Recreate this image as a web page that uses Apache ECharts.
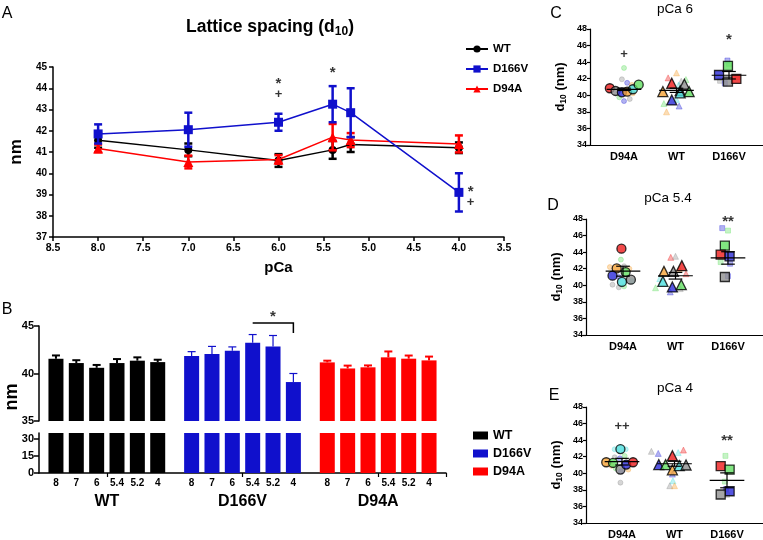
<!DOCTYPE html>
<html><head><meta charset="utf-8">
<script src="https://cdn.jsdelivr.net/npm/echarts@6/dist/echarts.min.js"></script>
<style>html,body{margin:0;padding:0;background:#fff}#c{width:763px;height:540px}</style>
</head><body><div id="c"></div>
<script>
// ---------- Panel A / B data ----------
const pCa = [8.0, 7.0, 6.0, 5.4, 5.2, 4.0];
const pCaLabels = ['8', '7', '6', '5.4', '5.2', '4'];
const groups = ['WT', 'D166V', 'D94A'];
const wtMean = [41.55, 41.1, 40.6, 41.1, 41.35, 41.2];
const wtSem = [0.35, 0.3, 0.3, 0.42, 0.35, 0.25];
const d166vMean = [41.85, 42.05, 42.4, 43.25, 42.85, 39.1];
const d166vSem = [0.45, 0.8, 0.4, 0.85, 1.15, 0.9];
const d94aMean = [41.17, 40.53, 40.65, 41.7, 41.56, 41.38];
const d94aSem = [0.18, 0.3, 0.2, 0.62, 0.33, 0.4];
const annA = [[6.0, 44.4, '*'], [6.0, 43.7, '+'], [5.4, 44.9, '*'], [3.87, 39.3, '*'], [3.87, 38.65, '+']];
const annB = [46.4, '*'];
const bracketB = [45.32, 44.26];

// ---------- Panels C, D, E data: [x jitter, d10, colour key] ----------
const scatterCats = ['D94A', 'WT', 'D166V'];
const p6BigD94A = [[-0.27,40.85,'r'],[-0.16,40.52,'k'],[-0.04,40.36,'b'],[0.06,40.44,'o'],[0.17,40.73,'c'],[0.28,41.28,'g']];
const p6FaintD94A = [[0.0,43.3,'g'],[-0.04,41.93,'k'],[0.06,41.5,'b'],[0.15,41.25,'o'],[0.17,40.24,'o'],[0.11,39.55,'k'],[0.0,39.3,'b'],[-0.09,39.76,'g']];
const p6BigWT = [[-0.26,40.44,'o'],[-0.09,41.45,'r'],[-0.09,39.44,'b'],[0.07,40.56,'k'],[0.07,40.3,'c'],[0.15,41.33,'k'],[0.24,40.44,'g']];
const p6FaintWT = [[-0.16,42.1,'r'],[0.0,42.7,'o'],[0.18,41.9,'g'],[0.09,41.7,'k'],[0.04,41.25,'c'],[-0.19,38.0,'o'],[0.05,38.7,'b'],[0.0,39.5,'c'],[-0.24,39.0,'g']];
const p6BigD166V = [[-0.19,42.45,'b'],[-0.02,43.55,'g'],[-0.02,41.65,'k'],[0.14,41.97,'r']];
const p6FaintD166V = [[-0.03,44.2,'b'],[0.0,43.8,'g'],[-0.17,41.75,'k'],[-0.08,41.45,'b'],[0.16,42.2,'r']];
const p6Mean = [40.72, 40.6, 42.42];
const p6Sem = [0.14, 0.25, 0.45];
const p6Ann = [[1, 44.9, '+'], [3, 47.2, '*']];

const p54BigD94A = [[-0.03,44.42,'r'],[-0.12,42.04,'o'],[-0.2,41.16,'b'],[0.05,41.6,'g'],[-0.02,40.4,'c'],[0.15,40.68,'k']];
const p54FaintD94A = [[-0.04,43.1,'g'],[0.02,42.3,'k'],[0.12,42.0,'o'],[-0.25,42.2,'o'],[-0.08,41.0,'b'],[0.17,40.5,'c'],[-0.2,40.07,'k'],[-0.08,39.75,'k'],[0.02,39.87,'g']];
const p54BigWT = [[-0.22,41.68,'o'],[-0.04,41.68,'k'],[0.12,42.37,'r'],[-0.24,40.47,'c'],[-0.06,39.8,'b'],[0.11,40.07,'g']];
const p54FaintWT = [[-0.09,43.37,'r'],[0.0,43.5,'k'],[0.07,42.0,'o'],[0.2,41.4,'r'],[-0.3,40.8,'c'],[-0.38,39.7,'g'],[-0.1,39.2,'b'],[0.09,39.6,'k']];
const p54BigD166V = [[-0.06,44.78,'g'],[-0.14,43.7,'r'],[0.03,43.5,'b'],[-0.06,41.0,'k']];
const p54FaintD166V = [[-0.11,46.9,'b'],[0.0,46.6,'g'],[-0.14,42.8,'g'],[0.04,42.6,'b'],[0.0,41.1,'b']];
const p54Mean = [41.7, 41.15, 43.3];
const p54Sem = [0.6, 0.4, 0.75];
const p54Ann = [[3, 48.1, '**']];

const p4BigD94A = [[-0.3,41.33,'o'],[-0.17,41.25,'g'],[-0.03,42.92,'c'],[-0.03,40.45,'k'],[0.08,41.05,'b'],[0.21,41.33,'r']];
const p4FaintD94A = [[-0.14,42.9,'c'],[0.07,42.9,'c'],[0.05,42.1,'g'],[-0.14,41.93,'k'],[-0.04,41.8,'b'],[-0.2,40.9,'o'],[0.12,40.45,'o'],[-0.02,40.25,'b'],[-0.12,40.6,'g'],[-0.03,38.87,'k']];
const p4BigWT = [[-0.3,41.05,'b'],[-0.17,41.05,'g'],[-0.04,42.12,'r'],[-0.04,40.42,'o'],[0.09,40.93,'c'],[0.22,41.0,'k']];
const p4FaintWT = [[-0.44,42.65,'k'],[-0.31,42.4,'b'],[0.07,42.5,'c'],[0.17,42.8,'r'],[-0.04,39.9,'b'],[-0.03,39.1,'c'],[-0.09,38.5,'k'],[0.0,38.5,'o']];
const p4BigD166V = [[-0.12,40.86,'r'],[0.05,40.45,'g'],[0.05,37.83,'b'],[-0.12,37.44,'k']];
const p4FaintD166V = [[-0.03,42.1,'g'],[-0.04,39.0,'g'],[-0.02,38.1,'b'],[0.0,37.4,'k']];
const p4Mean = [41.4, 41.15, 39.15];
const p4Sem = [0.4, 0.3, 0.9];
const p4Ann = [[1, 45.7, '++'], [3, 44.4, '**']];

// ---------- styles ----------
const FONT = 'Liberation Sans, Arial, sans-serif';
const colWT = '#000000', colD166V = '#1010cc', colD94A = '#ff0000';
const groupColors = [colWT, colD166V, colD94A];
const palette = {r:'#ee1c1c', k:'#8e8e8e', b:'#2a2ad8', o:'#f5a236', c:'#4cdede', g:'#62df62'};
const shapes = ['circle', 'triangle', 'rect'];
function fade(hex, a) {
  const n = parseInt(hex.slice(1), 16);
  return 'rgba(' + (n >> 16 & 255) + ',' + (n >> 8 & 255) + ',' + (n & 255) + ',' + a + ')';
}
function ln(x1, y1, x2, y2, stroke, w) {
  return {type: 'line', shape: {x1, y1, x2, y2}, style: {stroke, lineWidth: w}};
}
function annItem(d) {
  const star = String(d[d.length - 1]).indexOf('*') >= 0;
  return {value: d, label: {fontSize: star ? 15 : 13, fontWeight: 'bold', offset: star ? [0, 4] : [0, 0]}};
}
function annSeries(xi, yi, data) {
  return {
    type: 'scatter', xAxisIndex: xi, yAxisIndex: yi, z: 10, clip: false, silent: true,
    symbolSize: 1, itemStyle: {color: 'rgba(0,0,0,0)'},
    data: data.map(annItem),
    label: {show: true, position: 'inside', formatter: p => p.value[p.value.length - 1], color: '#000', fontFamily: FONT}
  };
}

// ---------- B slot layout ----------
const NSLOT = 60;
const slotOf = (g, i) => 2 + g * 20 + i * 3;
const slotCats = [];
for (let j = 0; j < NSLOT; j++) slotCats.push('');
groups.forEach((g, gi) => pCaLabels.forEach((l, i) => { slotCats[slotOf(gi, i)] = l; }));
const groupMeans = [wtMean, d166vMean, d94aMean];
const groupSems = [wtSem, d166vSem, d94aSem];
function barData(gi) {
  const arr = new Array(NSLOT).fill(null);
  groupMeans[gi].forEach((v, i) => { arr[slotOf(gi, i)] = v; });
  return arr;
}

const series = [];

// ---------- Panel A ----------
const aSeries = [
  {name: 'WT', mean: wtMean, sem: wtSem, color: colWT, symbol: 'circle', size: 8},
  {name: 'D94A', mean: d94aMean, sem: d94aSem, color: colD94A, symbol: 'triangle', size: 10},
  {name: 'D166V', mean: d166vMean, sem: d166vSem, color: colD166V, symbol: 'rect', size: 9}
];
aSeries.forEach((s, k) => {
  series.push({
    type: 'custom', xAxisIndex: 0, yAxisIndex: 0, z: 2 + k * 2, silent: true,
    data: pCa.map((x, i) => [x, s.mean[i], s.sem[i]]),
    renderItem: (p, api) => {
      const x = api.value(0), m = api.value(1), e = api.value(2);
      const t = api.coord([x, m + e]), b = api.coord([x, m - e]);
      return {type: 'group', children: [
        ln(t[0], t[1], b[0], b[1], s.color, 2.5),
        ln(t[0] - 4, t[1], t[0] + 4, t[1], s.color, 2.5),
        ln(b[0] - 4, b[1], b[0] + 4, b[1], s.color, 2.5)
      ]};
    }
  });
  series.push({
    name: s.name, type: 'line', xAxisIndex: 0, yAxisIndex: 0, z: 3 + k * 2,
    data: pCa.map((x, i) => [x, s.mean[i]]),
    symbol: s.symbol, symbolSize: s.size, showAllSymbol: true,
    lineStyle: {color: s.color, width: 1.5},
    itemStyle: {color: s.color}
  });
});
series.push(annSeries(0, 0, annA));

// ---------- Panel B ----------
groups.forEach((g, gi) => {
  [[1, 1], [2, 2]].forEach(([xi, yi]) => {
    series.push({
      name: g + ' ', type: 'bar', xAxisIndex: xi, yAxisIndex: yi,
      data: barData(gi), barWidth: 15, barGap: '-100%',
      itemStyle: {color: groupColors[gi]}, silent: true
    });
  });
  series.push({
    type: 'custom', xAxisIndex: 1, yAxisIndex: 1, z: 3, silent: true,
    data: groupMeans[gi].map((m, i) => [slotOf(gi, i), m, groupSems[gi][i]]),
    renderItem: (p, api) => {
      const x = api.value(0), m = api.value(1), e = api.value(2);
      const t = api.coord([x, m + e]), b = api.coord([x, m]);
      const c = groupColors[gi];
      const w = gi === 1 ? 1.2 : 2;
      return {type: 'group', children: [
        ln(t[0], t[1], b[0], b[1], c, w),
        ln(t[0] - 4, t[1], t[0] + 4, t[1], c, w)
      ]};
    }
  });
});
const bStart = slotOf(1, 3), bEnd = slotOf(1, 5);
series.push({
  type: 'custom', xAxisIndex: 1, yAxisIndex: 1, clip: false, silent: true, z: 5,
  data: [[bStart, bEnd, bracketB[0], bracketB[1]]],
  renderItem: (p, api) => {
    const a = api.coord([api.value(0), api.value(2)]);
    const b = api.coord([api.value(1), api.value(2)]);
    const c = api.coord([api.value(1), api.value(3)]);
    return {type: 'polyline', shape: {points: [a, b, c]}, style: {stroke: '#000', lineWidth: 1.5, fill: null}};
  }
});
series.push(annSeries(1, 1, [[(bStart + bEnd) / 2, annB[0], annB[1]]]));

// ---------- Panels C, D, E ----------
const panels = [
  {big: [p6BigD94A, p6BigWT, p6BigD166V], faint: [p6FaintD94A, p6FaintWT, p6FaintD166V], mean: p6Mean, sem: p6Sem, ann: p6Ann},
  {big: [p54BigD94A, p54BigWT, p54BigD166V], faint: [p54FaintD94A, p54FaintWT, p54FaintD166V], mean: p54Mean, sem: p54Sem, ann: p54Ann},
  {big: [p4BigD94A, p4BigWT, p4BigD166V], faint: [p4FaintD94A, p4FaintWT, p4FaintD166V], mean: p4Mean, sem: p4Sem, ann: p4Ann}
];
const bigSize = [9, 10, 9];
const faintSize = [5, 6, 5];
panels.forEach((P, k) => {
  const xi = 4 + k, yi = 3 + k;
  for (let g = 0; g < 3; g++) {
    series.push({
      type: 'scatter', xAxisIndex: xi, yAxisIndex: yi, z: 2, silent: true, symbol: shapes[g], symbolSize: faintSize[g],
      data: P.faint[g].map(d => ({value: [g + 1 + d[0], d[1]], itemStyle: {color: fade(palette[d[2]], 0.45), borderColor: fade(palette[d[2]], 0.7), borderWidth: 0.6}}))
    });
  }
  for (let g = 0; g < 3; g++) {
    series.push({
      type: 'scatter', xAxisIndex: xi, yAxisIndex: yi, z: 3, silent: true, symbol: shapes[g], symbolSize: bigSize[g],
      data: P.big[g].map(d => ({value: [g + 1 + d[0], d[1]], itemStyle: {color: palette[d[2]], borderColor: '#000', borderWidth: 1.3}}))
    });
  }
  series.push({
    type: 'custom', xAxisIndex: xi, yAxisIndex: yi, z: 4, silent: true,
    data: P.mean.map((m, i) => [i + 1, m, P.sem[i]]),
    renderItem: (p, api) => {
      const x = api.value(0), m = api.value(1), e = api.value(2);
      const c = api.coord([x, m]), t = api.coord([x, m + e]), b = api.coord([x, m - e]);
      const hw = api.coord([x + 0.33, m])[0] - c[0];
      const cw = api.coord([x + 0.13, m])[0] - c[0];
      return {type: 'group', children: [
        ln(c[0] - hw, c[1], c[0] + hw, c[1], '#000', 1.2),
        ln(t[0], t[1], b[0], b[1], '#000', 1.2),
        ln(t[0] - cw, t[1], t[0] + cw, t[1], '#000', 1.2),
        ln(b[0] - cw, b[1], b[0] + cw, b[1], '#000', 1.2)
      ]};
    }
  });
  series.push(annSeries(xi, yi, P.ann));
});

// ---------- axes ----------
const axLine = {show: true, lineStyle: {color: '#000', width: 1.5}};
const axTick = {show: true, inside: false, length: 4, lineStyle: {color: '#000', width: 1.5}};
const scatterGrids = [
  {left: 590, top: 29, height: 116, c1: 624},
  {left: 586, top: 219, height: 116, c1: 623},
  {left: 586, top: 407, height: 118, c1: 622}
];
const SPX = 52.5;
const xAxes = [
  {gridIndex: 0, type: 'value', inverse: true, min: 3.5, max: 8.5, interval: 0.5,
   axisLine: axLine, axisTick: axTick, splitLine: {show: false},
   axisLabel: {formatter: v => v.toFixed(1), fontSize: 10.5, fontWeight: 'bold', color: '#000', margin: 6},
   name: 'pCa', nameLocation: 'middle', nameGap: 23, nameTextStyle: {fontSize: 15, fontWeight: 'bold', color: '#000'}},
  {gridIndex: 1, type: 'category', data: slotCats, show: false},
  {gridIndex: 2, type: 'category', data: slotCats,
   axisLine: axLine,
   axisTick: {show: true, length: 4, interval: (i) => i === 10 || i === 30 || i === 50, lineStyle: {color: '#000', width: 1.2}},
   axisLabel: {interval: 0, fontSize: 10, fontWeight: 'bold', color: '#000', margin: 5}},
  {gridIndex: 2, type: 'category', data: groups, position: 'bottom', offset: 0,
   axisLine: {show: false}, axisTick: {show: false},
   axisLabel: {fontSize: 16, fontWeight: 'bold', color: '#000', margin: 21}}
];
scatterGrids.forEach((sg, k) => {
  const mn = 1 - (sg.c1 - sg.left) / SPX;
  xAxes.push({
    gridIndex: 3 + k, type: 'value', min: mn, max: mn + (763 - sg.left) / SPX,
    axisLine: {show: true, lineStyle: {color: '#000', width: 1.2}}, axisTick: {show: false}, splitLine: {show: false},
    axisLabel: {customValues: [1, 2, 3], formatter: v => scatterCats[Math.round(v) - 1] || '', fontSize: 11, fontWeight: 'bold', color: '#000', margin: 6}
  });
});
const yAxes = [
  {gridIndex: 0, type: 'value', min: 37, max: 45, interval: 1,
   axisLine: axLine, axisTick: axTick, splitLine: {show: false},
   axisLabel: {fontSize: 10, fontWeight: 'bold', color: '#000', margin: 6},
   name: 'nm', nameLocation: 'middle', nameGap: 20, nameTextStyle: {fontSize: 17, fontWeight: 'bold', color: '#000'}},
  {gridIndex: 1, type: 'value', min: 35, max: 45, interval: 5,
   axisLine: axLine, axisTick: {show: true, length: 5, lineStyle: {color: '#000', width: 1.5}}, splitLine: {show: false},
   axisLabel: {fontSize: 11, fontWeight: 'bold', color: '#000', margin: 5}},
  {gridIndex: 2, type: 'value', min: 0, max: 35, interval: 15,
   axisLine: axLine, axisTick: {show: true, length: 5, lineStyle: {color: '#000', width: 1.5}}, splitLine: {show: false},
   axisLabel: {fontSize: 11, fontWeight: 'bold', color: '#000', margin: 5, showMaxLabel: false}}
];
scatterGrids.forEach((sg, k) => {
  yAxes.push({
    gridIndex: 3 + k, type: 'value', min: 34, max: 48, interval: 2,
    axisLine: {show: true, lineStyle: {color: '#000', width: 1.2}},
    axisTick: {show: true, length: 3, lineStyle: {color: '#000', width: 1.2}}, splitLine: {show: false},
    axisLabel: {fontSize: 9, fontWeight: 'bold', color: '#000', margin: 3},
    name: '{d|d}{s|10}{d| (nm)}', nameLocation: 'middle', nameGap: 22,
    nameTextStyle: {rich: {
      d: {fontSize: 13, fontWeight: 'bold', color: '#000', lineHeight: 16, fontFamily: FONT},
      s: {fontSize: 8.5, fontWeight: 'bold', color: '#000', lineHeight: 16, verticalAlign: 'bottom', fontFamily: FONT}
    }}
  });
});

function txt(x, y, text, size, weight) {
  return {type: 'text', x, y, silent: true, style: {
    text, fill: '#000', font: (weight || 'normal') + ' ' + size + 'px ' + FONT,
    textAlign: 'center', textVerticalAlign: 'middle'}};
}

const option = {
  animation: false,
  textStyle: {fontFamily: FONT, color: '#000'},
  grid: [
    {left: 34, top: 67, width: 470, height: 170},
    {left: 39, top: 326, width: 407, height: 95},
    {left: 39, top: 433, width: 407, height: 40},
    {left: 590, top: 29, width: 173, height: 116},
    {left: 586, top: 219, width: 177, height: 116},
    {left: 586, top: 407, width: 177, height: 118}
  ],
  xAxis: xAxes,
  yAxis: yAxes,
  legend: [
    {data: ['WT', 'D166V', 'D94A'], orient: 'vertical', left: 460, top: 38, itemWidth: 22, itemHeight: 9, itemGap: 8,
     textStyle: {fontSize: 11.5, fontWeight: 'bold', color: '#000'}, selectedMode: false},
    {data: ['WT ', 'D166V ', 'D94A '], orient: 'vertical', left: 468, top: 424, icon: 'rect', itemWidth: 15, itemHeight: 8, itemGap: 5,
     formatter: n => n.trim(), textStyle: {fontSize: 12.5, fontWeight: 'bold', color: '#000'}, selectedMode: false}
  ],
  graphic: [
    txt(7, 14, 'A', 16),
    {type: 'text', x: 270, y: 27, silent: true, style: {
      text: '{t|Lattice spacing (d}{s|10}{t|)}', textAlign: 'center', textVerticalAlign: 'middle',
      rich: {t: {font: 'bold 17.5px ' + FONT, fill: '#000', lineHeight: 22}, s: {font: 'bold 12px ' + FONT, fill: '#000', lineHeight: 22, verticalAlign: 'bottom'}}}},
    txt(7, 310, 'B', 16),
    {type: 'text', x: 12, y: 397, rotation: Math.PI / 2, silent: true, style: {text: 'nm', fill: '#000', font: 'bold 18px ' + FONT, textAlign: 'center', textVerticalAlign: 'middle'}},
    txt(556, 14, 'C', 16), txt(675, 9, 'pCa 6', 13.5),
    txt(553, 206, 'D', 16), txt(668, 198, 'pCa 5.4', 13.5),
    txt(554, 396, 'E', 16), txt(675, 388, 'pCa 4', 13.5)
  ],
  series
};
const chart = echarts.init(document.getElementById('c'), null, {renderer: 'canvas'});
chart.setOption(option);
</script>
</body></html>
